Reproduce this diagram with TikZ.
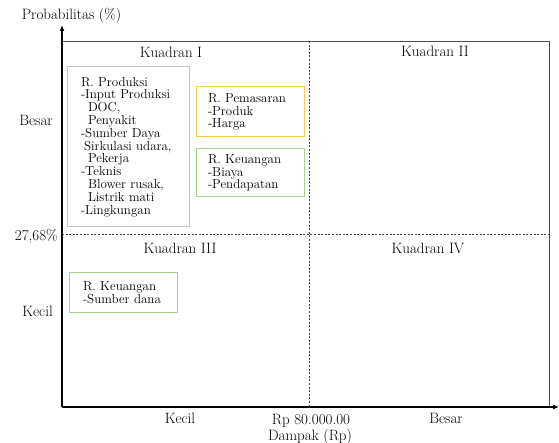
\documentclass[tikz,border=0pt]{standalone}
\usepackage{fontspec}
\usetikzlibrary{arrows.meta}
\definecolor{kuning}{HTML}{F8C958}
\definecolor{hijau}{HTML}{A9D08E}
\definecolor{abu}{HTML}{C4C4C4}
\tikzset{
  teks/.style={font=\fontsize{15}{16}\selectfont, inner sep=0pt},
  kotak/.style={font=\fontsize{13}{12.8}\selectfont, inner sep=0pt, draw, line width=1pt, align=left, text width=#1},
  garis/.style={line width=0.7pt, black!75, dash pattern=on 2pt off 1.6pt}
}
\begin{document}
\begin{tikzpicture}[x=1pt,y=-1pt]
  \useasboundingbox (0,0) rectangle (559,443);
  \coordinate (o) at (62,407);
  \coordinate (ytop) at (62,25);
  \coordinate (xend) at (559,407);
  \coordinate (kiri) at (62,41);
  \coordinate (kanan) at (549,41);
  \coordinate (kananbawah) at (549,407);
  \coordinate (tengahatas) at (309,41);
  \coordinate (tengahbawah) at (309,407);
  \coordinate (batas) at (62,234);
  \coordinate (bataskanan) at (549,234);
  % sumbu
  \draw[line width=0.9pt, black!70] (kiri) -- (kanan) -- (kananbawah);
  \draw[garis] (tengahatas) -- (tengahbawah);
  \draw[garis] (batas) -- (bataskanan);
  \draw[line width=1.6pt, -{Latex[length=6pt,width=5pt]}] (o) -- (ytop);
  \draw[line width=1.6pt, -{Latex[length=6pt,width=5pt]}] (o) -- (xend);
  % label sumbu
  \node[teks] (prob) at (71.5,16) {Probabilitas (\%)};
  \node[teks, anchor=east] (besarY) at (53,120) {Besar};
  \node[teks, anchor=east] (batasY) at (58,236) {27,68\%};
  \node[teks, anchor=east] (kecilY) at (53,311) {Kecil};
  \node[teks] (kecilX) at (180,418) {Kecil};
  \node[teks] (nilaiX) at (311,421) {Rp 80.000.00};
  \node[teks] (dampak) at (310,437) {Dampak (Rp)};
  \node[teks] (besarX) at (446,418) {Besar};
  % kuadran
  \node[teks] (k1) at (171,52) {Kuadran I};
  \node[teks] (k2) at (435,51) {Kuadran II};
  \node[teks] (k3) at (180,248) {Kuadran III};
  \node[teks] (k4) at (428,248) {Kuadran IV};
  % kotak risiko
  \node[kotak=94pt, draw=abu, minimum width=122pt, minimum height=160pt] (produksi) at (128,147)
    {R. Produksi\\-Input Produksi\\\hspace*{7pt}DOC,\\\hspace*{7pt}Penyakit\\-Sumber Daya\\\hspace*{3pt}Sirkulasi udara,\\\hspace*{7pt}Pekerja\\-Teknis\\\hspace*{7pt}Blower rusak,\\\hspace*{7pt}Listrik mati\\-Lingkungan};
  \node[kotak=84pt, draw=kuning, minimum width=108pt, minimum height=50pt] (pemasaran) at (250,112)
    {R. Pemasaran\\-Produk\\-Harga};
  \node[kotak=84pt, draw=hijau, minimum width=108pt, minimum height=48pt] (keuangan) at (250,173)
    {R. Keuangan\\-Biaya\\-Pendapatan};
  \node[kotak=80pt, draw=hijau, minimum width=108pt, minimum height=40pt] (dana) at (123,293)
    {R. Keuangan\\-Sumber dana};
\end{tikzpicture}
\end{document}
